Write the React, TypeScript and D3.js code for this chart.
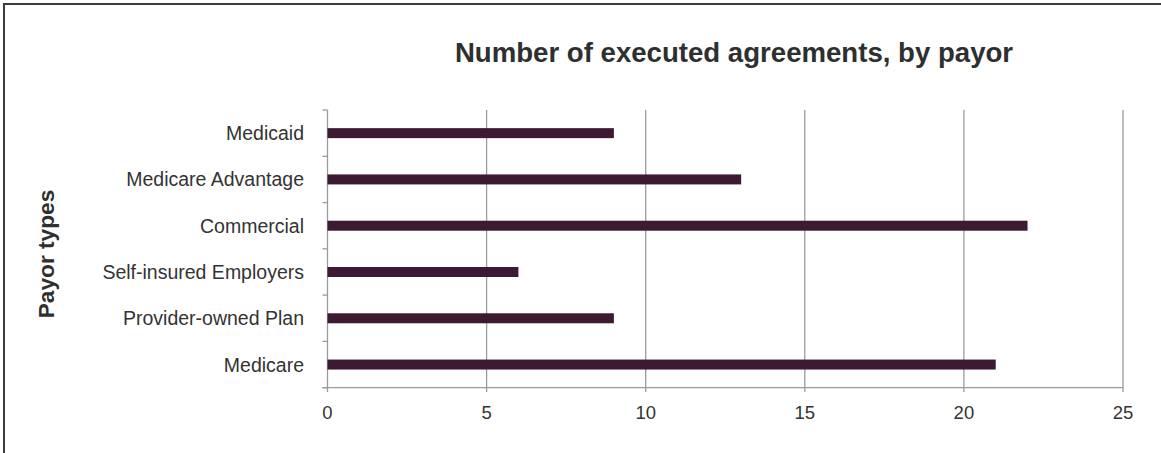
import React from "react";
import * as d3 from "d3";

const categories = [
  "Medicaid",
  "Medicare Advantage",
  "Commercial",
  "Self-insured Employers",
  "Provider-owned Plan",
  "Medicare",
];
const values = [9, 13, 22, 6, 9, 21];
const xTicks = [0, 5, 10, 15, 20, 25];
const title = "Number of executed agreements, by payor";
const yTitle = "Payor types";

const W = 1161;
const H = 453;
const FONT = "'Liberation Sans', Arial, Helvetica, sans-serif";

export default function App() {
  const x = d3.scaleLinear().domain([0, 25]).range([327.5, 1123]);
  const y = d3.scaleBand<string>().domain(categories).range([110, 387.7]).padding(0);
  const barH = 10;
  const gridColor = "#9a9a9a";
  const textColor = "#333333";
  const bandTicks = d3.range(categories.length + 1).map((i) => 110 + (i * (387.7 - 110)) / categories.length);

  return (
    <div style={{ position: "absolute", left: 0, top: 0 }}>
      <svg width={W} height={H} style={{ display: "block", background: "#fff" }}>
        <rect x={0} y={0} width={W} height={H} fill="#fff" />
        {/* frame (top & left) */}
        <line x1={4} y1={4} x2={W} y2={4} stroke="#3a3d3d" strokeWidth={2} />
        <line x1={4} y1={3} x2={4} y2={H} stroke="#3a3d3d" strokeWidth={2} />

        <text x={734} y={62} textAnchor="middle" fontFamily={FONT} fontWeight="bold" fontSize={27.6} fill="#2e2f2f">
          {title}
        </text>

        {/* gridlines */}
        {xTicks.filter((t) => t > 0).map((t) => (
          <line key={"g" + t} x1={x(t)} x2={x(t)} y1={110} y2={392} stroke={gridColor} strokeWidth={1.3} />
        ))}
        {/* y axis */}
        <line x1={x(0)} x2={x(0)} y1={110} y2={392} stroke={gridColor} strokeWidth={1.3} />
        {bandTicks.map((v, i) => (
          <line key={"yt" + i} x1={x(0) - 5} x2={x(0)} y1={v} y2={v} stroke={gridColor} strokeWidth={1.3} />
        ))}
        {/* x axis */}
        <line x1={x(0) - 5} x2={x(25)} y1={387.7} y2={387.7} stroke={gridColor} strokeWidth={1.3} />
        {xTicks.map((t) => (
          <text key={"xl" + t} x={x(t)} y={419} textAnchor="middle" fontFamily={FONT} fontSize={18.5} fill={textColor}>
            {t}
          </text>
        ))}

        {/* bars */}
        {categories.map((c, i) => (
          <rect
            key={c}
            x={x(0)}
            y={(y(c) as number) + y.bandwidth() / 2 - barH / 2}
            width={x(values[i]) - x(0)}
            height={barH}
            fill="#3d1a34"
          />
        ))}
        {/* category labels */}
        {categories.map((c) => (
          <text
            key={"l" + c}
            x={304}
            y={(y(c) as number) + y.bandwidth() / 2 + 7}
            textAnchor="end"
            fontFamily={FONT}
            fontSize={19.5}
            fill={textColor}
          >
            {c}
          </text>
        ))}

        <text
          transform={`translate(54, 254) rotate(-90)`}
          textAnchor="middle"
          fontFamily={FONT}
          fontWeight="bold"
          fontSize={22.7}
          fill="#2e2f2f"
        >
          {yTitle}
        </text>
      </svg>
    </div>
  );
}
